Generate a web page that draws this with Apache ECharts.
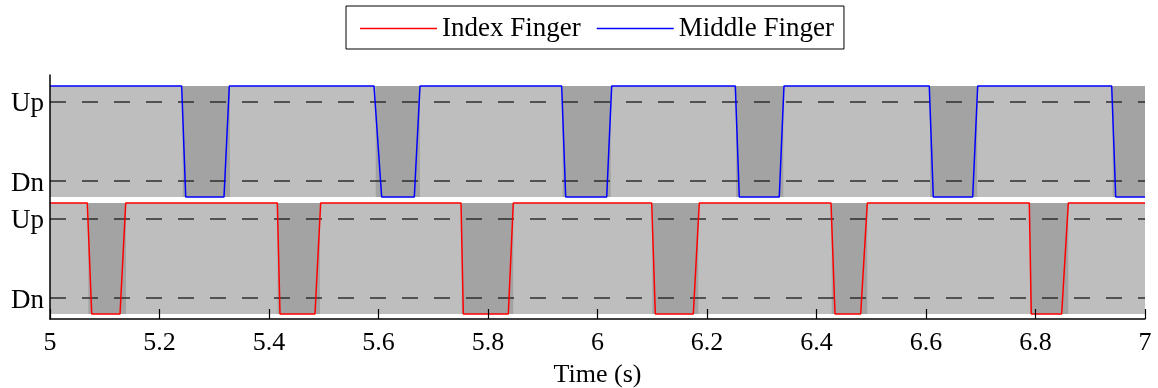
<!DOCTYPE html>
<html>
<head>
<meta charset="utf-8">
<script src="https://cdn.jsdelivr.net/npm/echarts@6/dist/echarts.min.js"></script>
<style>html,body{margin:0;padding:0;background:#fff}#c{width:1158px;height:388px}</style>
</head>
<body>
<div id="c"></div>
<script>
// ---- data ----
const xTicks = [5, 5.2, 5.4, 5.6, 5.8, 6, 6.2, 6.4, 6.6, 6.8, 7];
const levelLabels = ['Dn', 'Up'];
const HIGH = 1.2, LOW = -0.2;   // line levels (Dn = 0, Up = 1)

// Middle finger (top panel): transition times in seconds
const midFallStart = [5.2405, 5.5918, 5.9346, 6.2517, 6.6060, 6.9392];
const midFallEnd   = [5.2479, 5.6058, 5.9419, 6.2590, 6.6133, 6.9465];
const midRiseStart = [5.3178, 5.6654, 6.0168, 6.3320, 6.6853];
const midRiseEnd   = [5.3275, 5.6758, 6.0259, 6.3406, 6.6944];
const midShadeStart = [5.2424, 5.5949, 5.9364, 6.2530, 6.6073, 6.9410];
const midShadeEnd   = [5.3288, 5.6758, 6.0241, 6.3394, 6.6937, 7.0];

// Index finger (bottom panel)
const idxFallStart = [5.0681, 5.4152, 5.7507, 6.0990, 6.4265, 6.7887];
const idxFallEnd   = [5.0762, 5.4201, 5.7549, 6.1056, 6.4338, 6.7923];
const idxRiseStart = [5.1279, 5.4840, 5.8371, 6.1750, 6.4807, 6.8478];
const idxRiseEnd   = [5.1383, 5.4944, 5.8462, 6.1859, 6.4928, 6.8599];
const idxShadeStart = [5.0700, 5.4158, 5.7520, 6.1001, 6.4277, 6.7900];
const idxShadeEnd   = [5.1388, 5.4932, 5.8462, 6.1841, 6.4928, 6.8599];

const tStart = 5, tEnd = 7;

function buildTrace(fs, fe, rs, re) {
  const pts = [[tStart, HIGH]];
  for (let i = 0; i < fs.length; i++) {
    pts.push([fs[i], HIGH]);
    pts.push([fe[i], LOW]);
    if (i < rs.length) {
      pts.push([rs[i], LOW]);
      pts.push([re[i], HIGH]);
    } else {
      pts.push([tEnd, LOW]);
    }
  }
  if (pts[pts.length - 1][0] < tEnd) pts.push([tEnd, pts[pts.length - 1][1]]);
  return pts;
}
function buildShade(s, e) {
  return s.map((v, i) => [{ xAxis: v }, { xAxis: e[i] }]);
}

const SERIF = 'Liberation Serif';
const L = 50, R = 13;
const dashLine = {
  silent: true, symbol: ['none', 'none'], label: { show: false },
  lineStyle: { type: [16, 16], color: '#2e2e2e', width: 1.7 },
  data: [{ yAxis: 0 }, { yAxis: 1 }]
};

function panelYAxis(gi) {
  return {
    type: 'value', gridIndex: gi, min: LOW, max: HIGH,
    axisLine: { show: false }, axisTick: { show: false }, splitLine: { show: false },
    axisLabel: {
      customValues: [0, 1], margin: 6,
      formatter: v => '{a|' + levelLabels[Math.round(v)] + '}',
      rich: { a: { fontFamily: SERIF, fontSize: 27, color: '#000', padding: [5, 0, 0, 0] } }
    }
  };
}
function hiddenX(gi) {
  return { type: 'value', gridIndex: gi, min: tStart, max: tEnd, show: false };
}

const chart = echarts.init(document.getElementById('c'), null, { renderer: 'canvas' });
chart.setOption({
  animation: false,
  legend: {
    data: [
      { name: 'Index Finger', icon: 'rect' },
      { name: 'Middle Finger', icon: 'rect' }
    ],
    left: 346, top: 6,
    padding: [9, 10, 7, 14],
    borderColor: '#000', borderWidth: 1,
    itemWidth: 77, itemHeight: 1.6, itemGap: 16,
    textStyle: { fontFamily: SERIF, fontSize: 27, color: '#000', padding: [0, 0, 0, 0] }
  },
  grid: [
    { left: L, right: R, top: 75, height: 244, outerBoundsMode: 'none', containLabel: false },
    { left: L, right: R, top: 86, height: 111, show: true, backgroundColor: '#bebebe', borderWidth: 0, outerBoundsMode: 'none', containLabel: false },
    { left: L, right: R, top: 203, height: 111, show: true, backgroundColor: '#bebebe', borderWidth: 0, outerBoundsMode: 'none', containLabel: false }
  ],
  xAxis: [
    {
      type: 'value', gridIndex: 0, min: tStart, max: tEnd, interval: 0.2, z: 10,
      axisLine: { lineStyle: { color: '#000', width: 1.5 } },
      axisTick: { inside: true, length: 10, lineStyle: { color: '#000', width: 1.2 } },
      splitLine: { show: false },
      axisLabel: { fontFamily: SERIF, fontSize: 26, color: '#000', margin: 11,
        formatter: v => String(+v.toFixed(1)) },
      name: 'Time (s)', nameLocation: 'middle', nameGap: 43,
      nameTextStyle: { fontFamily: SERIF, fontSize: 26, color: '#000' }
    },
    hiddenX(1), hiddenX(2)
  ],
  yAxis: [
    { type: 'value', gridIndex: 0, min: 0, max: 1, z: 10,
      axisLine: { show: true, lineStyle: { color: '#000', width: 1.5 } },
      axisTick: { show: false }, axisLabel: { show: false }, splitLine: { show: false } },
    panelYAxis(1), panelYAxis(2)
  ],
  series: [
    { type: 'line', xAxisIndex: 1, yAxisIndex: 1, data: [], z: 1, silent: true,
      markArea: { silent: true, itemStyle: { color: '#a3a3a3' }, data: buildShade(midShadeStart, midShadeEnd) },
      markLine: dashLine },
    { type: 'line', xAxisIndex: 2, yAxisIndex: 2, data: [], z: 1, silent: true,
      markArea: { silent: true, itemStyle: { color: '#a3a3a3' }, data: buildShade(idxShadeStart, idxShadeEnd) },
      markLine: dashLine },
    { name: 'Index Finger', type: 'line', xAxisIndex: 2, yAxisIndex: 2, z: 5,
      symbol: 'none', clip: false, lineStyle: { color: '#ff0000', width: 1.5 }, itemStyle: { color: '#ff0000' },
      data: buildTrace(idxFallStart, idxFallEnd, idxRiseStart, idxRiseEnd) },
    { name: 'Middle Finger', type: 'line', xAxisIndex: 1, yAxisIndex: 1, z: 5,
      symbol: 'none', clip: false, lineStyle: { color: '#0000ff', width: 1.5 }, itemStyle: { color: '#0000ff' },
      data: buildTrace(midFallStart, midFallEnd, midRiseStart, midRiseEnd) }
  ]
});
</script>
</body>
</html>
